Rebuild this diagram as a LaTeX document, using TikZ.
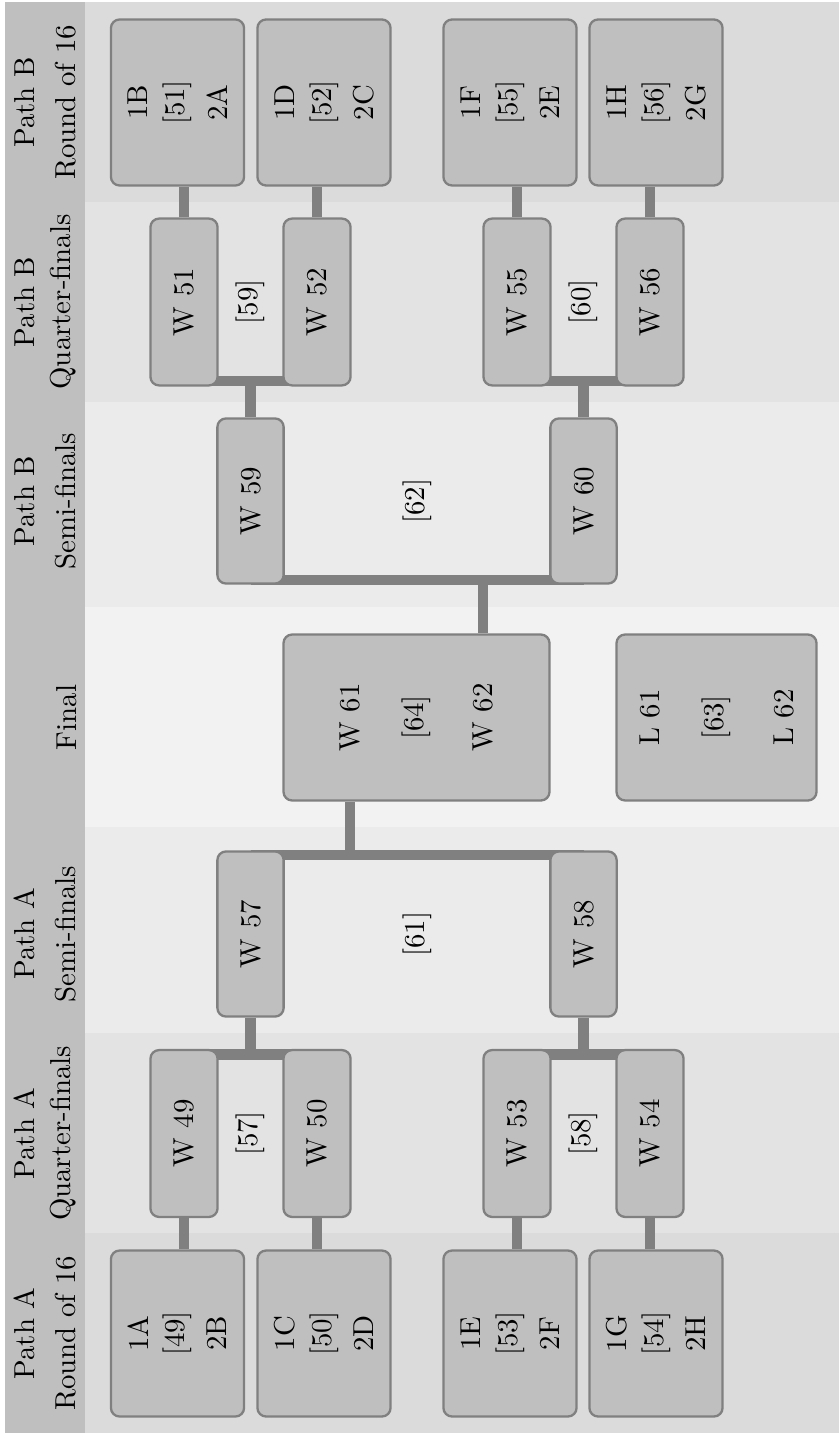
\documentclass[tikz,border=0pt]{standalone}
\usepackage{graphicx}
\usetikzlibrary{calc}
\pgfdeclarelayer{bg}
\pgfdeclarelayer{mid}
\pgfsetlayers{bg,mid,main}
\newcommand\mkr[6]{%
  \node[rbox] (#1) at (#2,#3) {};
  \node[lbl] (#1a) at ($(#1)+(-39.5,0)$) {#4};
  \node[lbl] (#1b) at (#1) {#5};
  \node[lbl] (#1c) at ($(#1)+(39.5,0)$) {#6};}
\begin{document}
\begin{tikzpicture}[x=0.347pt,y=-0.347pt,
  box/.style={draw=black!50, fill=black!25, line width=0.8pt, rounded corners=3pt, inner sep=0pt},
  qf/.style={box, minimum width=23.3pt, minimum height=57.9pt},
  sf/.style={box, minimum width=23.0pt, minimum height=57.3pt},
  rbox/.style={box, minimum width=46.2pt, minimum height=57.6pt},
  fbox/.style={box, minimum width=92.3pt, minimum height=57.6pt},
  tbox/.style={box, minimum width=69.4pt, minimum height=57.6pt},
  lbl/.style={rotate=90, inner sep=0pt},
  hdr/.style={rotate=90, anchor=south, inner sep=0pt},
  conn/.style={draw=black!50, line width=3.6pt}]
\useasboundingbox (0,0) rectangle (839,1433);
\begin{pgfonlayer}{bg}
\fill[white] (0,0) rectangle (839,1433);
\fill[black!14] (5,2) rectangle (839,202);
\fill[black!11] (5,202) rectangle (839,402);
\fill[black!8] (5,402) rectangle (839,607);
\fill[black!5] (5,607) rectangle (839,827);
\fill[black!8] (5,827) rectangle (839,1033);
\fill[black!11] (5,1033) rectangle (839,1233);
\fill[black!14] (5,1233) rectangle (839,1433);
\fill[black!25] (5,2) rectangle (85,1433);
\end{pgfonlayer}

% headers
\node[hdr] (h1a) at (35,102.5) {Path B};
\node[hdr] (h1b) at (77,102.5) {Round of 16};
\node[hdr] (h2a) at (35,302) {Path B};
\node[hdr] (h2b) at (77,302) {Quarter-finals};
\node[hdr] (h3a) at (35,501) {Path B};
\node[hdr] (h3b) at (77,501) {Semi-finals};
\node[hdr] (h4b) at (77,717.5) {Final};
\node[hdr] (h5a) at (35,934) {Path A};
\node[hdr] (h5b) at (77,934) {Semi-finals};
\node[hdr] (h6a) at (35,1133.5) {Path A};
\node[hdr] (h6b) at (77,1133.5) {Quarter-finals};
\node[hdr] (h7a) at (35,1333.5) {Path A};
\node[hdr] (h7b) at (77,1333.5) {Round of 16};

% round of 16
\mkr{m51}{177.5}{102.5}{1B}{[51]}{2A}
\mkr{m52}{324}{102.5}{1D}{[52]}{2C}
\mkr{m55}{510}{102.5}{1F}{[55]}{2E}
\mkr{m56}{656}{102.5}{1H}{[56]}{2G}
\mkr{m49}{177.5}{1333.5}{1A}{[49]}{2B}
\mkr{m50}{324}{1333.5}{1C}{[50]}{2D}
\mkr{m53}{510}{1333.5}{1E}{[53]}{2F}
\mkr{m54}{656}{1333.5}{1G}{[54]}{2H}

% quarter-finals
\node[qf] (w51) at (184,302) {\rotatebox{90}{W 51}};
\node[qf] (w52) at (317,302) {\rotatebox{90}{W 52}};
\node[qf] (w55) at (517,302) {\rotatebox{90}{W 55}};
\node[qf] (w56) at (650,302) {\rotatebox{90}{W 56}};
\node[qf] (w49) at (184,1133.5) {\rotatebox{90}{W 49}};
\node[qf] (w50) at (317,1133.5) {\rotatebox{90}{W 50}};
\node[qf] (w53) at (517,1133.5) {\rotatebox{90}{W 53}};
\node[qf] (w54) at (650,1133.5) {\rotatebox{90}{W 54}};
\node[lbl] (n59) at (250.5,302) {[59]};
\node[lbl] (n60) at (583.5,302) {[60]};
\node[lbl] (n57) at (250.5,1133.5) {[57]};
\node[lbl] (n58) at (583.5,1133.5) {[58]};

% semi-finals
\node[sf] (w59) at (250.5,501) {\rotatebox{90}{W 59}};
\node[sf] (w60) at (583.5,501) {\rotatebox{90}{W 60}};
\node[sf] (w57) at (250.5,934) {\rotatebox{90}{W 57}};
\node[sf] (w58) at (583.5,934) {\rotatebox{90}{W 58}};
\node[lbl] (n62) at (417,501) {[62]};
\node[lbl] (n61) at (417,934) {[61]};

% final and third place
\node[fbox] (fin) at (416.5,717.5) {};
\node[lbl] (f64a) at ($(fin)+(-66.5,0)$) {W 61};
\node[lbl] (f64b) at (fin) {[64]};
\node[lbl] (f64c) at ($(fin)+(66.5,0)$) {W 62};
\node[tbox] (thr) at (716.5,717.5) {};
\node[lbl] (t63a) at ($(thr)+(-67,0)$) {L 61};
\node[lbl] (t63b) at (thr) {[63]};
\node[lbl] (t63c) at ($(thr)+(67,0)$) {L 62};

\begin{pgfonlayer}{mid}
% round of 16 to quarter-finals
\foreach \q/\r in {w51/m51,w52/m52,w55/m55,w56/m56}
  \draw[conn] (\q.north) -- (\q.north |- \r.south);
\foreach \q/\r in {w49/m49,w50/m50,w53/m53,w54/m54}
  \draw[conn] (\q.south) -- (\q.south |- \r.north);
% quarter-finals to semi-finals
\coordinate (j59) at ($(w51.south)+(0,-5.5)$);
\draw[conn] (j59) -- (j59 -| w52.center);
\draw[conn] (j59 -| w59.north) -- (w59.north);
\coordinate (j60) at ($(w55.south)+(0,-5.5)$);
\draw[conn] (j60) -- (j60 -| w56.center);
\draw[conn] (j60 -| w60.north) -- (w60.north);
\coordinate (j57) at ($(w49.north)+(0,5.5)$);
\draw[conn] (j57) -- (j57 -| w50.center);
\draw[conn] (j57 -| w57.south) -- (w57.south);
\coordinate (j58) at ($(w53.north)+(0,5.5)$);
\draw[conn] (j58) -- (j58 -| w54.center);
\draw[conn] (j58 -| w58.south) -- (w58.south);
% semi-finals to final
\coordinate (j62) at ($(w59.south)+(0,-5)$);
\draw[conn] (j62) -- (j62 -| w60.center);
\draw[conn] (j62 -| f64c) -- (f64c |- fin.north);
\coordinate (j61) at ($(w57.north)+(0,5)$);
\draw[conn] (j61) -- (j61 -| w58.center);
\draw[conn] (f64a |- fin.south) -- (j61 -| f64a);
\end{pgfonlayer}
\end{tikzpicture}
\end{document}
